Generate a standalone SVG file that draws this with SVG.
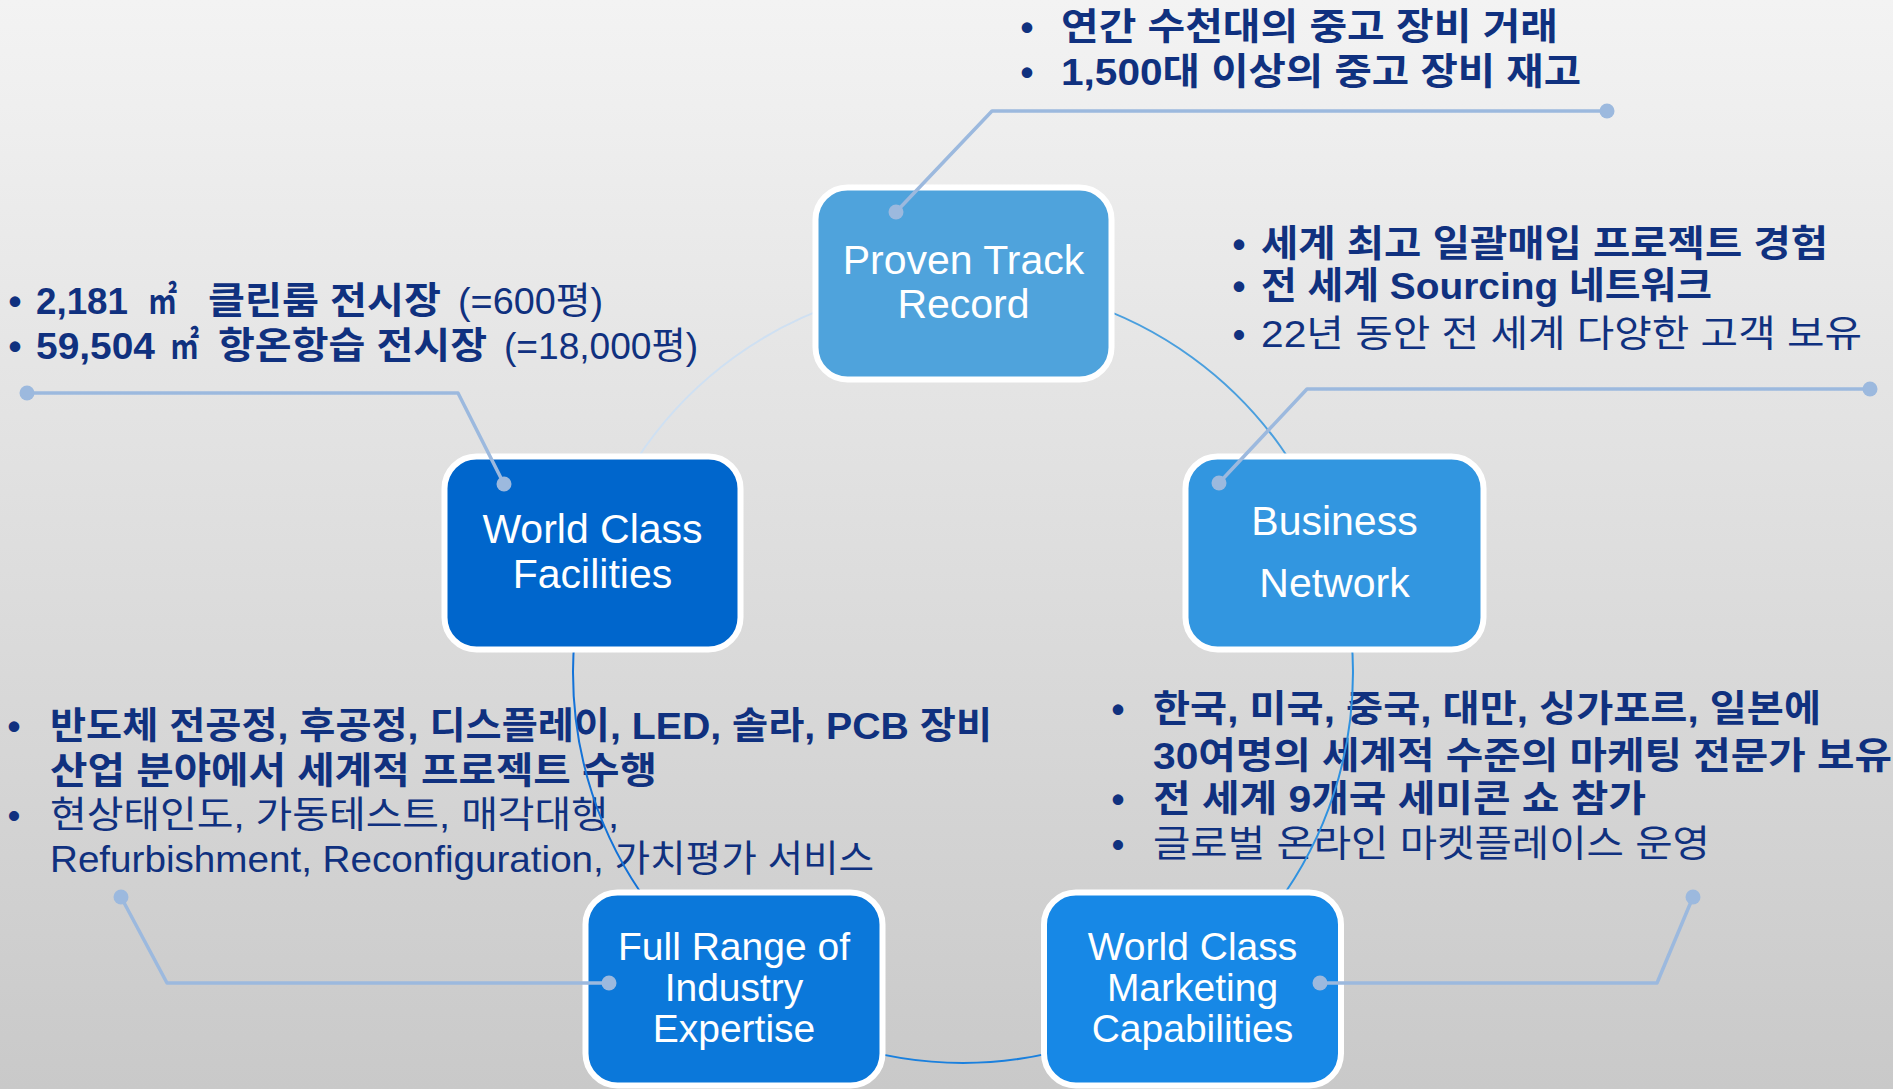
<svg xmlns="http://www.w3.org/2000/svg" width="1893" height="1089" viewBox="0 0 1893 1089">
<defs>
<linearGradient id="bg" x1="0" y1="0" x2="0" y2="1">
<stop offset="0" stop-color="#F3F3F3"/>
<stop offset="1" stop-color="#C9C9C9"/>
</linearGradient>
</defs>
<style>
.node rect{stroke:#FFFFFF;stroke-width:6}
.nl{font-family:"Liberation Sans",Arial,sans-serif;fill:#FFFFFF;text-anchor:middle}
.t{font-family:"Liberation Sans","Noto Sans CJK KR",sans-serif;fill:#10317F;font-size:37px}
.b{font-weight:700}
.r{font-weight:400}
.bul{text-anchor:middle}
.call{fill:none;stroke:#9CB9DE;stroke-width:3.5;stroke-linejoin:round}
.dot{fill:#9CB9DE}
.arc{fill:none;stroke-width:2}
</style>
<rect x="0" y="0" width="1893" height="1089" fill="url(#bg)"/>

<g id="text-proven">
<text class="t b"><tspan class="bul" x="1027" y="40">•</tspan><tspan x="1061" y="40" textLength="497" lengthAdjust="spacingAndGlyphs">연간 수천대의 중고 장비 거래</tspan><tspan class="bul" x="1027" y="85">•</tspan><tspan x="1061" y="85" textLength="520" lengthAdjust="spacingAndGlyphs">1,500대 이상의 중고 장비 재고</tspan></text>
</g>

<g id="text-business">
<text class="t b"><tspan class="bul" x="1239" y="257">•</tspan><tspan x="1261" y="257" textLength="567" lengthAdjust="spacingAndGlyphs">세계 최고 일괄매입 프로젝트 경험</tspan><tspan class="bul" x="1239" y="299">•</tspan><tspan x="1261" y="299" textLength="451" lengthAdjust="spacingAndGlyphs">전 세계 Sourcing 네트워크</tspan><tspan class="bul" font-weight="400" x="1239" y="347">•</tspan><tspan font-weight="400" x="1261" y="347" textLength="601" lengthAdjust="spacingAndGlyphs">22년 동안 전 세계 다양한 고객 보유</tspan></text>
</g>

<g id="text-facilities">
<text class="t b"><tspan class="bul" x="15" y="314">•</tspan><tspan x="36" y="314" textLength="92" lengthAdjust="spacingAndGlyphs">2,181</tspan><tspan x="148" y="314" textLength="29" lengthAdjust="spacingAndGlyphs">㎡</tspan><tspan x="208" y="314" textLength="233" lengthAdjust="spacingAndGlyphs">클린룸 전시장</tspan><tspan x="458" y="314" font-weight="400" textLength="145" lengthAdjust="spacingAndGlyphs">(=600평)</tspan><tspan class="bul" x="15" y="359">•</tspan><tspan x="36" y="359" textLength="119" lengthAdjust="spacingAndGlyphs">59,504</tspan><tspan x="170" y="359" textLength="29" lengthAdjust="spacingAndGlyphs">㎡</tspan><tspan x="218" y="359" textLength="269" lengthAdjust="spacingAndGlyphs">항온항습 전시장</tspan><tspan x="504" y="359" font-weight="400" textLength="194" lengthAdjust="spacingAndGlyphs">(=18,000평)</tspan></text>
</g>

<g id="text-fullrange">
<text class="t b"><tspan class="bul" x="14" y="739">•</tspan><tspan x="50" y="739" textLength="942" lengthAdjust="spacingAndGlyphs">반도체 전공정, 후공정, 디스플레이, LED, 솔라, PCB 장비</tspan><tspan x="50" y="784" textLength="607" lengthAdjust="spacingAndGlyphs">산업 분야에서 세계적 프로젝트 수행</tspan><tspan class="bul" font-weight="400" x="14" y="828">•</tspan><tspan font-weight="400" x="50" y="828" textLength="569" lengthAdjust="spacingAndGlyphs">현상태인도, 가동테스트, 매각대행,</tspan><tspan font-weight="400" x="50" y="872" textLength="824" lengthAdjust="spacingAndGlyphs">Refurbishment, Reconfiguration, 가치평가 서비스</tspan></text>
</g>

<g id="text-marketing">
<text class="t b"><tspan class="bul" x="1118" y="722">•</tspan><tspan x="1153" y="722" textLength="668" lengthAdjust="spacingAndGlyphs">한국, 미국, 중국, 대만, 싱가포르, 일본에</tspan><tspan x="1153" y="769" textLength="739" lengthAdjust="spacingAndGlyphs">30여명의 세계적 수준의 마케팅 전문가 보유</tspan><tspan class="bul" x="1118" y="812">•</tspan><tspan x="1153" y="812" textLength="493" lengthAdjust="spacingAndGlyphs">전 세계 9개국 세미콘 쇼 참가</tspan><tspan class="bul" font-weight="400" x="1118" y="857">•</tspan><tspan font-weight="400" x="1153" y="857" textLength="557" lengthAdjust="spacingAndGlyphs">글로벌 온라인 마켓플레이스 운영</tspan></text>
</g>

<g id="connectors">
<path class="arc" stroke="#CFE0F2" d="M592.1,552.5 A390,390 0 0 1 963,283"/>
<path class="arc" stroke="#4A9FDE" d="M963,283 A390,390 0 0 1 1333.9,552.5"/>
<path class="arc" stroke="#2F92E0" d="M1333.9,552.5 A390,390 0 0 1 1192.2,988.5"/>
<path class="arc" stroke="#1A80DE" d="M1192.2,988.5 A390,390 0 0 1 733.8,988.5"/>
<path class="arc" stroke="#1272D8" d="M733.8,988.5 A390,390 0 0 1 592.1,552.5"/>
</g>

<g id="node-proven" class="node">
<rect x="815.5" y="187.5" width="296" height="192" rx="32" fill="#4FA3DC"/>
<text class="nl" font-size="41"><tspan x="963.5" y="274">Proven Track</tspan><tspan x="963.5" y="318">Record</tspan></text>
</g>
<g id="node-facilities" class="node">
<rect x="444.5" y="456.5" width="296" height="193" rx="32" fill="#0066CC"/>
<text class="nl" font-size="41"><tspan x="592.5" y="543">World Class</tspan><tspan x="592.5" y="588">Facilities</tspan></text>
</g>
<g id="node-business" class="node">
<rect x="1185.5" y="456.5" width="298" height="193" rx="32" fill="#3296E0"/>
<text class="nl" font-size="41"><tspan x="1334.5" y="535">Business</tspan><tspan x="1334.5" y="597">Network</tspan></text>
</g>
<g id="node-fullrange" class="node">
<rect x="585.5" y="892.5" width="297" height="193" rx="32" fill="#0B78DA"/>
<text class="nl" font-size="39"><tspan x="734" y="960">Full Range of</tspan><tspan x="734" y="1001">Industry</tspan><tspan x="734" y="1042">Expertise</tspan></text>
</g>
<g id="node-marketing" class="node">
<rect x="1044" y="892.5" width="297" height="193" rx="32" fill="#1788E6"/>
<text class="nl" font-size="39"><tspan x="1192.5" y="960">World Class</tspan><tspan x="1192.5" y="1001">Marketing</tspan><tspan x="1192.5" y="1042">Capabilities</tspan></text>
</g>

<g id="callouts">
<path class="call" d="M896,212 L992,111 L1607,111"/>
<circle class="dot" cx="896" cy="212" r="7.5"/>
<circle class="dot" cx="1607" cy="111" r="7.5"/>
<path class="call" d="M504,484 L458,393 L27,393"/>
<circle class="dot" cx="504" cy="484" r="7.5"/>
<circle class="dot" cx="27" cy="393" r="7.5"/>
<path class="call" d="M1219,483 L1307,389 L1870,389"/>
<circle class="dot" cx="1219" cy="483" r="7.5"/>
<circle class="dot" cx="1870" cy="389" r="7.5"/>
<path class="call" d="M609,983 L167,983 L121,897"/>
<circle class="dot" cx="609" cy="983" r="7.5"/>
<circle class="dot" cx="121" cy="897" r="7.5"/>
<path class="call" d="M1320,983 L1657,983 L1693,897"/>
<circle class="dot" cx="1320" cy="983" r="7.5"/>
<circle class="dot" cx="1693" cy="897" r="7.5"/>
</g>
</svg>
